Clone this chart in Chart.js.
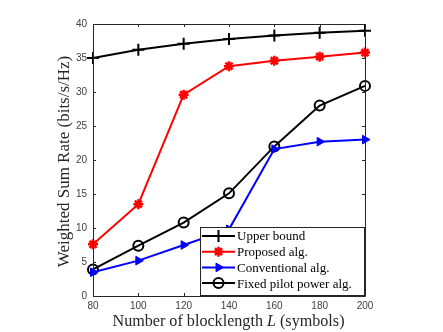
<!DOCTYPE html>
<html><head><meta charset="utf-8">
<script src="https://cdn.jsdelivr.net/npm/chart.js@4/dist/chart.umd.min.js"></script>
<style>html,body{margin:0;padding:0;background:#fff;}#wrap{width:443px;height:332px;}</style>
</head><body><div id="wrap"><canvas id="c" width="443" height="332"></canvas></div>
<script>
const blocklengths = [80, 100, 120, 140, 160, 180, 200];
const upperBound = [35.0, 36.2, 37.1, 37.8, 38.3, 38.7, 39.0];
const proposedAlg = [7.6, 13.5, 29.6, 33.8, 34.6, 35.2, 35.8];
const conventionalAlg = [3.5, 5.2, 7.5, 9.8, 21.6, 22.7, 23.0];
const fixedPilotAlg = [3.9, 7.4, 10.8, 15.1, 22.0, 28.0, 30.9];
const xTicks = [80, 100, 120, 140, 160, 180, 200];
const yTicks = [0, 5, 10, 15, 20, 25, 30, 35, 40];
const seriesLabels = ['Upper bound', 'Proposed alg.', 'Conventional alg.', 'Fixed pilot power alg.'];

const pts = arr => arr.map((v, i) => ({x: blocklengths[i], y: v}));
const SERIF = '"Liberation Serif", "DejaVu Serif", serif';

const ds = [
  {label: seriesLabels[0], data: pts(upperBound), borderColor: '#000', backgroundColor: '#000', pointStyle: 'cross', pointRadius: 6, pointBorderWidth: 2},
  {label: seriesLabels[1], data: pts(proposedAlg), borderColor: '#ff0000', backgroundColor: '#ff0000', pointStyle: 'star', pointRadius: 5, pointBorderWidth: 2.5},
  {label: seriesLabels[2], data: pts(conventionalAlg), borderColor: '#0000ff', backgroundColor: '#0000ff', pointStyle: 'triangle', rotation: 90, pointRadius: 5, pointBorderWidth: 1},
  {label: seriesLabels[3], data: pts(fixedPilotAlg), borderColor: '#000', backgroundColor: 'rgba(0,0,0,0)', pointStyle: 'circle', pointRadius: 5, pointBorderWidth: 2}
].map(d => Object.assign({borderWidth: 2, tension: 0, clip: false, pointHoverRadius: d.pointRadius}, d));

function fitFont(ctx, text, target, italic) {
  ctx.font = (italic ? 'italic ' : '') + '20px ' + SERIF;
  return 20 * target / ctx.measureText(text).width;
}

const framePlugin = {
  id: 'frame',
  afterDraw(chart) {
    const ctx = chart.ctx, a = chart.chartArea;
    const xs = chart.scales.x, ys = chart.scales.y;
    ctx.save();
    ctx.strokeStyle = '#262626';
    ctx.lineWidth = 1;
    ctx.beginPath();
    ctx.rect(Math.round(a.left) + 0.5, Math.round(a.top) + 0.5, Math.round(a.right - a.left), Math.round(a.bottom - a.top));
    ctx.stroke();
    ctx.beginPath();
    const tl = 3;
    xTicks.forEach(v => {
      const px = Math.round(xs.getPixelForValue(v)) + 0.5;
      ctx.moveTo(px, a.bottom); ctx.lineTo(px, a.bottom - tl);
      ctx.moveTo(px, a.top); ctx.lineTo(px, a.top + tl);
    });
    yTicks.forEach(v => {
      const py = Math.round(ys.getPixelForValue(v)) + 0.5;
      ctx.moveTo(a.left, py); ctx.lineTo(a.left + tl, py);
      ctx.moveTo(a.right, py); ctx.lineTo(a.right - tl, py);
    });
    ctx.stroke();

    // axis titles
    ctx.fillStyle = '#262626';
    ctx.textBaseline = 'alphabetic';
    const p1 = 'Number of blocklength ', p2 = 'L', p3 = ' (symbols)';
    const fs = fitFont(ctx, p1 + p2 + p3, 233, false);
    ctx.font = fs + 'px ' + SERIF;
    const w1 = ctx.measureText(p1).width, w3 = ctx.measureText(p3).width;
    ctx.font = 'italic ' + fs + 'px ' + SERIF;
    const w2 = ctx.measureText(p2).width;
    const total = w1 + w2 + w3;
    let sx = 228.5 - total / 2;
    const by = 326;
    ctx.textAlign = 'left';
    ctx.font = fs + 'px ' + SERIF; ctx.fillText(p1, sx, by);
    ctx.font = 'italic ' + fs + 'px ' + SERIF; ctx.fillText(p2, sx + w1, by);
    ctx.font = fs + 'px ' + SERIF; ctx.fillText(p3, sx + w1 + w2, by);

    const yt = 'Weighted Sum Rate (bits/s/Hz)';
    const fy = Math.min(fitFont(ctx, yt, 225, false), 17);
    ctx.save();
    ctx.translate(69, 161.5);
    ctx.rotate(-Math.PI / 2);
    ctx.textAlign = 'center';
    ctx.font = fy + 'px ' + SERIF;
    ctx.fillText(yt, 0, 0);
    ctx.restore();

    // legend
    const lx = 200, ly = 227, lw = 164, lh = 68;
    ctx.fillStyle = '#fff';
    ctx.fillRect(lx, ly, lw, lh);
    ctx.strokeStyle = '#262626';
    ctx.lineWidth = 1;
    ctx.strokeRect(lx + 0.5, ly + 0.5, lw, lh);
    chart.data.datasets.forEach((d, i) => {
      const cy = ly + 9 + i * 15.7;
      ctx.strokeStyle = d.borderColor;
      ctx.lineWidth = 2;
      ctx.beginPath(); ctx.moveTo(lx + 2, cy); ctx.lineTo(lx + 35, cy); ctx.stroke();
      ctx.fillStyle = d.backgroundColor; ctx.strokeStyle = d.borderColor; ctx.lineWidth = d.pointBorderWidth;
      Chart.helpers.drawPoint(ctx, {pointStyle: d.pointStyle, radius: d.pointRadius, rotation: d.rotation || 0, borderWidth: d.pointBorderWidth}, lx + 18.5, cy);
      ctx.fillStyle = '#000';
      ctx.font = '13px ' + SERIF;
      ctx.textAlign = 'left';
      ctx.textBaseline = 'middle';
      ctx.fillText(d.label, lx + 37, cy + 1);
    });
    ctx.restore();
  }
};

new Chart(document.getElementById('c'), {
  type: 'line',
  data: {datasets: ds},
  options: {
    responsive: false,
    animation: false,
    devicePixelRatio: 1,
    layout: {padding: {left: 0, top: 24, right: 78, bottom: 0}},
    plugins: {legend: {display: false}, tooltip: {enabled: false}},
    scales: {
      x: {
        type: 'linear', min: 80, max: 200,
        afterBuildTicks: s => { s.ticks = xTicks.map(v => ({value: v})); },
        afterFit: s => { s.height = 36; },
        grid: {display: false, drawTicks: false, tickLength: 0}, border: {display: false},
        ticks: {color: '#404040', font: {family: '"Liberation Sans", Arial, sans-serif', size: 10}, padding: 4, maxRotation: 0}
      },
      y: {
        type: 'linear', min: 0, max: 40,
        afterBuildTicks: s => { s.ticks = yTicks.map(v => ({value: v})); },
        afterFit: s => { s.width = 93; },
        grid: {display: false, drawTicks: false, tickLength: 0}, border: {display: false},
        ticks: {color: '#404040', font: {family: '"Liberation Sans", Arial, sans-serif', size: 10}, padding: 6}
      }
    }
  },
  plugins: [framePlugin]
});
</script></body></html>
